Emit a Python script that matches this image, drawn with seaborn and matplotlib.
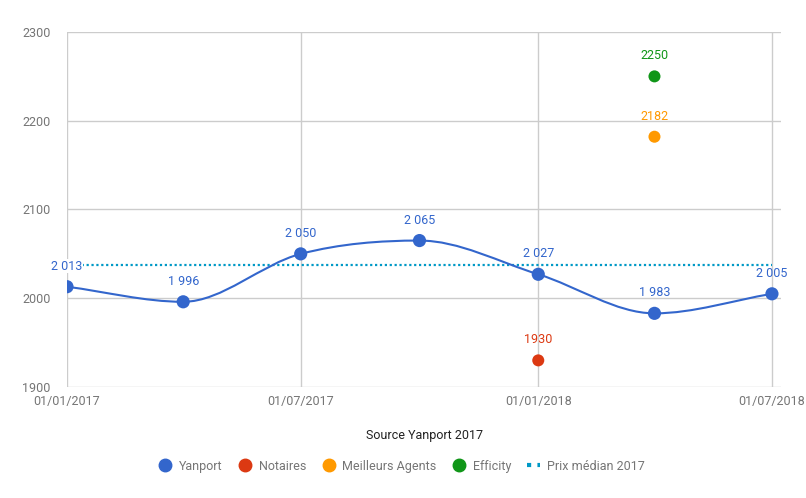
import numpy as np
import pandas as pd
import matplotlib
matplotlib.use('Agg')
import matplotlib.pyplot as plt
import matplotlib.dates as mdates
from matplotlib.path import Path
from matplotlib.patches import PathPatch
from matplotlib.lines import Line2D
import seaborn as sns

# data
yanport_dates = ['2017-01-01', '2017-04-01', '2017-07-01', '2017-10-01',
                 '2018-01-01', '2018-04-01', '2018-07-01']
yanport_values = [2013, 1996, 2050, 2065, 2027, 1983, 2005]
notaires_dates = ['2018-01-01']
notaires_values = [1930]
meilleurs_dates = ['2018-04-01']
meilleurs_values = [2182]
efficity_dates = ['2018-04-01']
efficity_values = [2250]
median_2017 = 2038
x_ticks = ['2017-01-01', '2017-07-01', '2018-01-01', '2018-07-01']
y_ticks = [1900, 2000, 2100, 2200, 2300]

blue = '#3366cc'
red = '#dc3912'
orange = '#ff9900'
green = '#109618'
teal = '#0099c6'
grey_txt = '#757575'

sns.set_style('white')
plt.rcParams['font.family'] = ['Roboto', 'DejaVu Sans']

fig = plt.figure(figsize=(8.06, 4.98), dpi=100)
ax = fig.add_axes([67/806, 1 - 387/498, 714/806, 355/498])

yp = pd.DataFrame({'date': pd.to_datetime(yanport_dates), 'value': yanport_values})
yp['x'] = mdates.date2num(yp['date'])

# smooth curve through the Yanport points (cubic bezier segments)
xs = yp['x'].to_numpy()
ys = yp['value'].to_numpy().astype(float)
n = len(xs)
tang = np.zeros(n)
for i in range(n):
    if i == 0:
        tang[i] = (ys[1] - ys[0]) / (xs[1] - xs[0])
    elif i == n - 1:
        tang[i] = (ys[-1] - ys[-2]) / (xs[-1] - xs[-2])
    elif (ys[i] - ys[i-1]) * (ys[i+1] - ys[i]) <= 0:
        tang[i] = 0.0
    else:
        tang[i] = (ys[i+1] - ys[i-1]) / (xs[i+1] - xs[i-1])
verts = [(xs[0], ys[0])]
codes = [Path.MOVETO]
for i in range(n - 1):
    h = (xs[i+1] - xs[i]) / 3
    verts += [(xs[i] + h, ys[i] + tang[i] * h),
              (xs[i+1] - h, ys[i+1] - tang[i+1] * h),
              (xs[i+1], ys[i+1])]
    codes += [Path.CURVE4] * 3
ax.add_patch(PathPatch(Path(verts, codes), facecolor='none', edgecolor=blue, lw=1.5, zorder=3))

x0 = mdates.date2num(pd.Timestamp('2017-01-01'))
x1 = mdates.date2num(pd.Timestamp('2018-07-08'))
xe = mdates.date2num(pd.Timestamp('2018-07-01'))
ax.axhline(median_2017, color=teal, lw=1.6, ls=(0, (1, 1.2)), zorder=2,
           xmax=(xe - x0) / (x1 - x0))

sns.scatterplot(data=yp, x='x', y='value', color=blue, s=90, edgecolor='none', ax=ax, zorder=4)

for i, (xi, vi) in enumerate(zip(yp['x'], yp['value'])):
    lab = f'{vi:,}'.replace(',', ' ')
    # first label sits on the median line and hides it
    box = dict(boxstyle='square,pad=0.05', fc='white', ec='none') if i == 0 else None
    ax.annotate(lab, (xi, vi), xytext=(0, 10), textcoords='offset points',
                ha='center', va='bottom', color=blue, fontsize=9, bbox=box, zorder=5)

others = [(notaires_dates, notaires_values, red),
          (meilleurs_dates, meilleurs_values, orange),
          (efficity_dates, efficity_values, green)]
for d, v, c in others:
    xd = mdates.date2num(pd.to_datetime(d))
    sns.scatterplot(x=xd, y=v, color=c, s=75, edgecolor='none', ax=ax, zorder=4)
    for xi, vi in zip(xd, v):
        ax.annotate(str(vi), (xi, vi), xytext=(0, 10), textcoords='offset points',
                    ha='center', va='bottom', color=c, fontsize=9, zorder=5)

ax.set_xlim(x0, x1)
ax.set_ylim(1900, 2300)
xt = mdates.date2num(pd.to_datetime(x_ticks))
ax.set_xticks(xt)
ax.set_xticklabels([pd.Timestamp(t).strftime('%d/%m/%Y') for t in x_ticks])
ax.set_yticks(y_ticks)
ax.grid(True, color='#cccccc', lw=1)
for s in ax.spines.values():
    s.set_visible(False)
ax.tick_params(axis='y', length=9, color='#cccccc', width=1, pad=3, labelsize=9, labelcolor=grey_txt)
ax.tick_params(axis='x', length=0, pad=6, labelsize=9, labelcolor=grey_txt)
ax.set_xlabel('Source Yanport 2017', fontsize=9, color='#222222', labelpad=15)
ax.set_ylabel('')

handles = [Line2D([], [], ls='none', marker='o', ms=9, color=blue),
           Line2D([], [], ls='none', marker='o', ms=9, color=red),
           Line2D([], [], ls='none', marker='o', ms=9, color=orange),
           Line2D([], [], ls='none', marker='o', ms=9, color=green),
           Line2D([], [], color=teal, lw=3, ls=(0, (1, 1.5)))]
labels = ['Yanport', 'Notaires', 'Meilleurs Agents', 'Efficity', 'Prix médian 2017']
leg = fig.legend(handles, labels, loc='center', bbox_to_anchor=(402/806, 1 - 466/498), ncol=5,
                 frameon=False, fontsize=9, handlelength=1.0, handletextpad=0.6, columnspacing=1.3)
for t in leg.get_texts():
    t.set_color(grey_txt)

fig.savefig('out.png', dpi=100)
